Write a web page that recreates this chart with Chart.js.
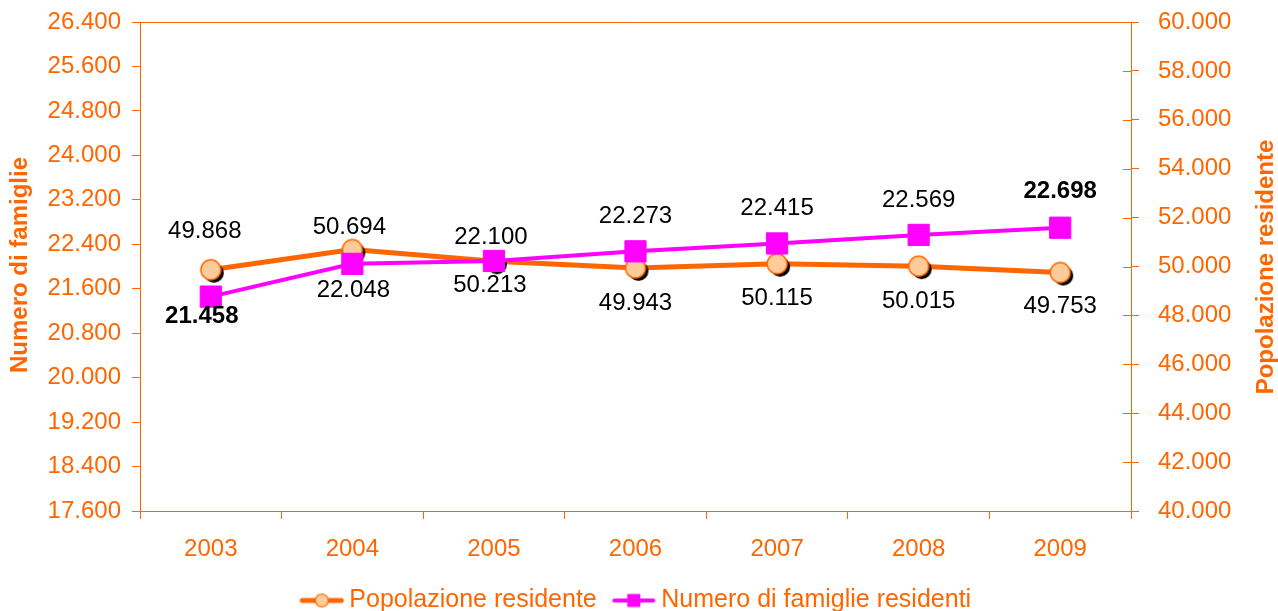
<!DOCTYPE html>
<html>
<head>
<meta charset="utf-8">
<script src="https://cdn.jsdelivr.net/npm/chart.js@4/dist/chart.umd.min.js"></script>
<style>
    html, body { margin: 0; padding: 0; background: #fff; }
    #wrap { width: 1278px; height: 611px; }
</style>
</head>
<body>
<div id="wrap"><canvas id="chart" width="1278" height="611"></canvas></div>
<script>
// data
const years = ['2003', '2004', '2005', '2006', '2007', '2008', '2009'];
const popolazione = [49868, 50694, 50213, 49943, 50115, 50015, 49753];
const famiglie = [21458, 22048, 22100, 22273, 22415, 22569, 22698];
const leftTicks = { min: 17600, max: 26400, step: 800 };
const rightTicks = { min: 40000, max: 60000, step: 2000 };

// label placement (pixel offsets from the point)
const popLabelDy = [-38, -22, 24, 35, 35, 35, 34];
const popLabelDx = [-6, -3, -4, 0, 0, 0, 0];
const famLabelDy = [20, 27, -24, -35, -35, -35, -36];
const famLabelDx = [-9, 1, -3, 0, 0, 0, 0];
const famLabelBold = [true, false, false, false, false, false, true];

const ORANGE = '#FF6600';
const MAGENTA = '#FF00FF';
const PEACH = '#FFCC99';
const FONT = "'Liberation Sans', Arial, sans-serif";

function fmt(v) {
    return String(v).replace(/\B(?=(\d{3})+(?!\d))/g, '.');
}

// circle marker with the black drop shadow
function circleMarker(r, shadow) {
    const c = document.createElement('canvas');
    c.width = 2 * r + 12;
    c.height = 2 * r + 12;
    const g = c.getContext('2d');
    const m = c.width / 2;
    if (shadow) {
        g.beginPath();
        g.arc(m + 3, m + 3, r, 0, Math.PI * 2);
        g.fillStyle = '#000';
        g.fill();
    }
    g.beginPath();
    g.arc(m, m, r, 0, Math.PI * 2);
    g.fillStyle = PEACH;
    g.fill();
    g.lineWidth = 1.5;
    g.strokeStyle = ORANGE;
    g.stroke();
    return c;
}

function legendSymbol(kind) {
    const c = document.createElement('canvas');
    c.width = 45;
    c.height = 16;
    const g = c.getContext('2d');
    g.lineCap = 'round';
    if (kind === 'circle') {
        g.strokeStyle = ORANGE;
        g.lineWidth = 5;
        g.beginPath(); g.moveTo(3, 8); g.lineTo(42, 8); g.stroke();
        g.beginPath();
        g.arc(22.5, 8, 6.5, 0, Math.PI * 2);
        g.fillStyle = PEACH;
        g.fill();
        g.lineWidth = 1.2;
        g.stroke();
    } else {
        g.strokeStyle = MAGENTA;
        g.lineWidth = 4;
        g.beginPath(); g.moveTo(3, 8); g.lineTo(42, 8); g.stroke();
        g.fillStyle = MAGENTA;
        g.fillRect(16, 1.5, 13, 13);
    }
    return c;
}

const popMarker = circleMarker(10, true);

const extras = {
    id: 'extras',
    afterDraw(chart) {
        const ctx = chart.ctx;
        const a = chart.chartArea;
        ctx.save();
        // top border of the plot
        ctx.strokeStyle = ORANGE;
        ctx.lineWidth = 1;
        ctx.beginPath();
        ctx.moveTo(a.left, Math.round(a.top) + 0.5);
        ctx.lineTo(a.right, Math.round(a.top) + 0.5);
        ctx.stroke();
        // inner half of the right axis ticks
        const y2 = chart.scales.y2;
        ctx.beginPath();
        y2.ticks.forEach((t, i) => {
            const py = Math.round(y2.getPixelForTick(i)) + 0.5;
            ctx.moveTo(y2.left - 8, py);
            ctx.lineTo(y2.left, py);
        });
        ctx.stroke();
        // axis titles
        ctx.fillStyle = ORANGE;
        ctx.font = 'bold 24px ' + FONT;
        ctx.textAlign = 'center';
        ctx.textBaseline = 'middle';
        ctx.translate(20, 265);
        ctx.rotate(-Math.PI / 2);
        ctx.fillText('Numero di famiglie', 0, 0);
        ctx.rotate(Math.PI / 2);
        ctx.translate(-20, -265);
        ctx.translate(1266, 267);
        ctx.rotate(-Math.PI / 2);
        ctx.fillText('Popolazione residente', 0, 0);
        ctx.restore();
    },
    afterDatasetsDraw(chart) {
        const ctx = chart.ctx;
        ctx.save();
        ctx.fillStyle = '#000';
        ctx.textAlign = 'center';
        ctx.textBaseline = 'middle';
        const popMeta = chart.getDatasetMeta(0);
        const famMeta = chart.getDatasetMeta(1);
        ctx.font = '24px ' + FONT;
        popMeta.data.forEach((pt, i) => {
            ctx.fillText(fmt(popolazione[i]), pt.x + popLabelDx[i], pt.y + popLabelDy[i]);
        });
        famMeta.data.forEach((pt, i) => {
            ctx.font = (famLabelBold[i] ? 'bold ' : '') + '24px ' + FONT;
            ctx.fillText(fmt(famiglie[i]), pt.x + famLabelDx[i], pt.y + famLabelDy[i]);
        });
        ctx.restore();
    }
};

const ctx = document.getElementById('chart').getContext('2d');
const chart = new Chart(ctx, {
    type: 'line',
    data: {
        labels: years,
        datasets: [{
            label: 'Popolazione residente',
            data: popolazione,
            yAxisID: 'y2',
            borderColor: ORANGE,
            borderWidth: 5,
            pointStyle: popMarker,
            pointRadius: 10,
            tension: 0,
            order: 2
        }, {
            label: 'Numero di famiglie residenti',
            data: famiglie,
            yAxisID: 'y',
            borderColor: MAGENTA,
            borderWidth: 4,
            pointStyle: 'rect',
            pointRadius: 15,
            pointBackgroundColor: MAGENTA,
            pointBorderColor: MAGENTA,
            pointBorderWidth: 1,
            tension: 0,
            order: 1
        }]
    },
    options: {
        responsive: false,
        animation: false,
        layout: {
            padding: { top: 22, left: 0, right: 0, bottom: -12 }
        },
        plugins: {
            tooltip: { enabled: false },
            legend: {
                position: 'bottom',
                labels: {
                    usePointStyle: true,
                    pointStyleWidth: 30,
                    padding: 22,
                    color: ORANGE,
                    font: { size: 25, family: FONT },
                    generateLabels: () => [
                        { text: 'Popolazione residente', pointStyle: legendSymbol('circle'), fontColor: ORANGE, datasetIndex: 0, lineWidth: 0 },
                        { text: 'Numero di famiglie residenti', pointStyle: legendSymbol('rect'), fontColor: ORANGE, datasetIndex: 1, lineWidth: 0 }
                    ]
                }
            }
        },
        scales: {
            x: {
                offset: true,
                clip: false,
                grid: {
                    offset: true,
                    drawOnChartArea: false,
                    tickLength: 8,
                    color: ORANGE
                },
                border: { color: ORANGE, width: 1 },
                ticks: {
                    color: ORANGE,
                    padding: 16,
                    maxRotation: 0,
                    font: { size: 24, family: FONT }
                },
                afterFit: (s) => { s.height = 55; }
            },
            y: {
                position: 'left',
                min: leftTicks.min,
                max: leftTicks.max,
                clip: false,
                grid: {
                    drawOnChartArea: false,
                    tickLength: 8,
                    color: ORANGE
                },
                border: { color: ORANGE, width: 1 },
                ticks: {
                    stepSize: leftTicks.step,
                    color: ORANGE,
                    padding: 11,
                    font: { size: 24, family: FONT },
                    callback: (v) => fmt(v)
                },
                afterFit: (s) => { s.width = 140; s.paddingTop = 0; s.paddingBottom = 0; }
            },
            y2: {
                position: 'right',
                min: rightTicks.min,
                max: rightTicks.max,
                clip: false,
                grid: {
                    drawOnChartArea: false,
                    tickLength: 8,
                    color: ORANGE
                },
                border: { color: ORANGE, width: 1 },
                ticks: {
                    stepSize: rightTicks.step,
                    color: ORANGE,
                    padding: 19,
                    font: { size: 24, family: FONT },
                    callback: (v) => fmt(v)
                },
                afterFit: (s) => { s.width = 147; s.paddingTop = 0; s.paddingBottom = 0; }
            }
        }
    },
    plugins: [extras]
});
</script>
</body>
</html>
